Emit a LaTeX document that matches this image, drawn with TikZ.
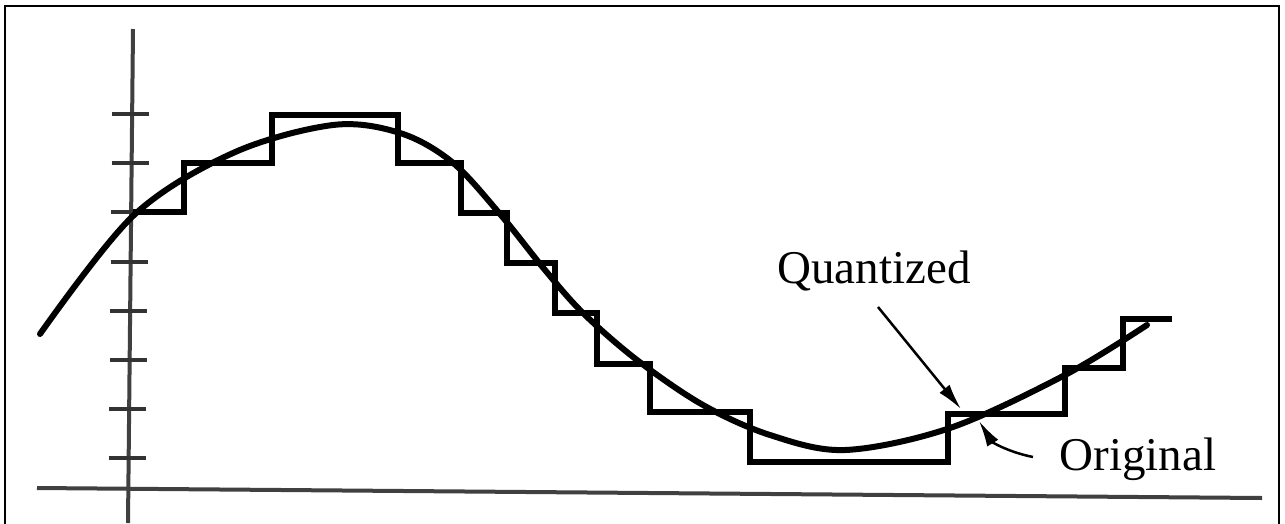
\documentclass[tikz,border=0pt]{standalone}
\usepackage{fontspec}
\setmainfont{Liberation Serif}
\usetikzlibrary{arrows.meta}
\begin{document}
\begin{tikzpicture}[x=1pt,y=-1pt,
  axisline/.style={draw=black!75,line width=4pt},
  tickline/.style={draw=black!80,line width=4pt},
  origcurve/.style={draw=black,line width=6pt,line cap=round},
  quantline/.style={draw=black,line width=5.5pt,line join=miter},
  callout/.style={draw=black,line width=2.5pt,-{Latex[length=26pt,width=13pt]}},
  labeltext/.style={font=\fontsize{47}{54}\selectfont,anchor=base,inner sep=0pt}]
\useasboundingbox (0,0) rectangle (1285,523);
\fill[white] (0,0) rectangle (1285,523);
% frame
\draw[line width=2.5pt] (5,530) -- (5,6) -- (1279,6) -- (1279,530);
% axes
\coordinate (vt) at (133,29);
\coordinate (vb) at (128,523);
\coordinate (hl) at (37,488);
\coordinate (hr) at (1262,498);
\draw[axisline] (vt) -- (vb);
\draw[axisline] (hl) -- (hr);
% ticks
\foreach \y in {114,163,212,262,311,360,409,458}{
  \pgfmathsetmacro{\ax}{133-5*(\y-29)/494}
  \draw[tickline] (\ax-20,\y) -- (\ax+17,\y);
}
% original curve
\draw[origcurve] plot[smooth,tension=0.55] coordinates {
  (40,334) (133,216) (233,153) (333,125)
  (400,133) (452,162) (500,214)
  (545,270) (583,313) (637,360) (703,405) (770,435) (845,450)
  (950,428) (1065,375) (1147,325)};
% quantized staircase
\draw[quantline] (133,212) -- (184,212) -- (184,163) -- (272,163) -- (272,115)
  -- (398,115) -- (398,163) -- (461,163) -- (461,213) -- (507,213) -- (507,263)
  -- (555,263) -- (555,313) -- (597,313) -- (597,364) -- (650,364) -- (650,412)
  -- (750,412) -- (750,462) -- (948,462) -- (948,414) -- (1065,414) -- (1065,368)
  -- (1123,368) -- (1123,319) -- (1172,319);
% labels
\node[labeltext] (q) at (874,283) {Quantized};
\node[labeltext] (o) at (1138,470) {Original};
% callouts
\coordinate (qa) at (878,307);
\coordinate (qt) at (961,409);
\coordinate (oa) at (1033,457);
\coordinate (ot) at (979,421);
\draw[callout] (qa) -- (qt);
\draw[callout] (oa) .. controls (1008,452) and (992,442) .. (ot);
\end{tikzpicture}
\end{document}
